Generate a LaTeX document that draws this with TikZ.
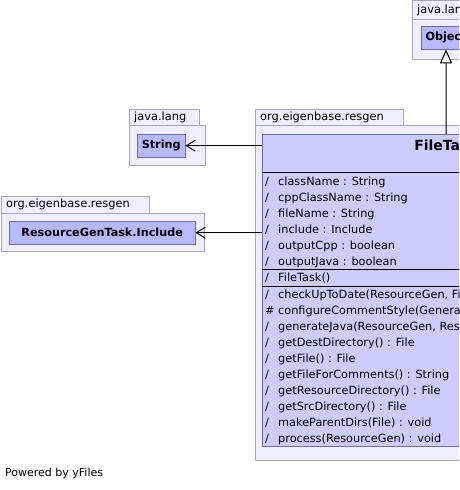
\documentclass[tikz,border=0pt]{standalone}
\usepackage{fontspec}
\setmainfont{DejaVu Sans}
\usetikzlibrary{arrows.meta}

\definecolor{pkgfill}{RGB}{238,238,255}
\definecolor{pkgline}{RGB}{165,165,180}
\definecolor{classfill}{RGB}{204,204,255}
\definecolor{classdark}{RGB}{184,184,255}
\definecolor{classline}{RGB}{110,110,160}

\newcommand{\mpub}{\makebox[13pt][l]{/}}
\newcommand{\mprot}{\makebox[13pt][l]{\#}}

\tikzset{
  pkgtab/.style = {draw = pkgline, fill = pkgfill},
  pkglabel/.style = {anchor = west, inner sep = 0pt, font = \fontsize{11.4}{13}\selectfont},
  classbox/.style = {draw = classline, fill = classdark, inner sep = 0pt, minimum height = 23,
    font = \bfseries\fontsize{11.2}{13}\selectfont},
  member/.style = {anchor = west, inner sep = 0pt, font = \fontsize{11.3}{13}\selectfont},
  assoc/.style = {line width = 1pt, -{Straight Barb[length = 9pt, width = 11pt]}},
  inherit/.style = {line width = 1pt, -{Triangle[open, length = 14pt, width = 12pt, fill = white]}}
}

\begin{document}
\begin{tikzpicture} [x = 1pt, y = -1pt]
\useasboundingbox (0, 0) rectangle (459, 490);
\clip (0, 0) rectangle (459, 490);

% packages
\draw[pkgtab] (412, 0) rectangle (520, 19);
\draw[pkgtab] (412, 19) rectangle (520, 59);
\node[pkglabel] at (417, 10) {java.lang};

\draw[pkgtab] (129, 109) rectangle (199, 125);
\draw[pkgtab] (129, 125) rectangle (205, 165);
\node[pkglabel] at (134, 117) {java.lang};

\draw[pkgtab] (1, 196) rectangle (149, 213);
\draw[pkgtab] (1, 213) rectangle (204, 251);
\node[pkglabel] at (6, 204.5) {org.eigenbase.resgen};

\draw[pkgtab] (255, 109) rectangle (403, 125);
\draw[pkgtab] (255, 125) rectangle (640, 460);
\node[pkglabel] at (260, 117) {org.eigenbase.resgen};

% classes
\node[classbox, anchor = north, minimum width = 50] (object) at (446, 26) {Object};
\node[classbox, anchor = north west, minimum width = 48] (string) at (137, 134) {String};
\node[classbox, anchor = north west, minimum width = 186] (include) at (9, 221) {ResourceGenTask.Include};

\node[draw = classline, fill = classfill, anchor = north west, inner sep = 0pt,
  minimum width = 368, minimum height = 312] (filetask) at (262, 134) {};
\node[font = \bfseries\fontsize{14}{16}\selectfont, inner sep = 0pt] (filetasktitle) at (446, 145) {FileTask};
\draw[black] (262, 172) -- (630, 172);
\draw[black] (262, 269) -- (630, 269);
\draw[black] (262, 286) -- (630, 286);

\foreach \txt [count = \i from 0] in {{className : String}, {cppClassName : String},
  {fileName : String}, {include : Include}, {outputCpp : boolean}, {outputJava : boolean}}
  \node[member] (attr\i) at (265, 182 + 16 * \i) {\mpub\txt};

\node[member] (ctor) at (265, 278) {\mpub FileTask()};

\foreach \txt [count = \i from 0] in {{\mpub checkUpToDate(ResourceGen, File) : boolean},
  {\mprot configureCommentStyle(Generator) : void},
  {\mpub generateJava(ResourceGen, ResourceDef.ResourceBundle) : void},
  {\mpub getDestDirectory() : File}, {\mpub getFile() : File},
  {\mpub getFileForComments() : String}, {\mpub getResourceDirectory() : File},
  {\mpub getSrcDirectory() : File}, {\mpub makeParentDirs(File) : void},
  {\mpub process(ResourceGen) : void}}
  \node[member] (meth\i) at (265, 295 + 16 * \i) {\txt};

% connectors
\draw[inherit] (filetask.north) -- (object.south);
\draw[assoc] (string.east -| filetask.west) -- (string.east);
\draw[assoc] (include.east -| filetask.west) -- (include.east);

\node[anchor = west, inner sep = 0pt, font = \fontsize{11}{13}\selectfont] (powered) at (5, 473) {Powered by yFiles};
\end{tikzpicture}
\end{document}
